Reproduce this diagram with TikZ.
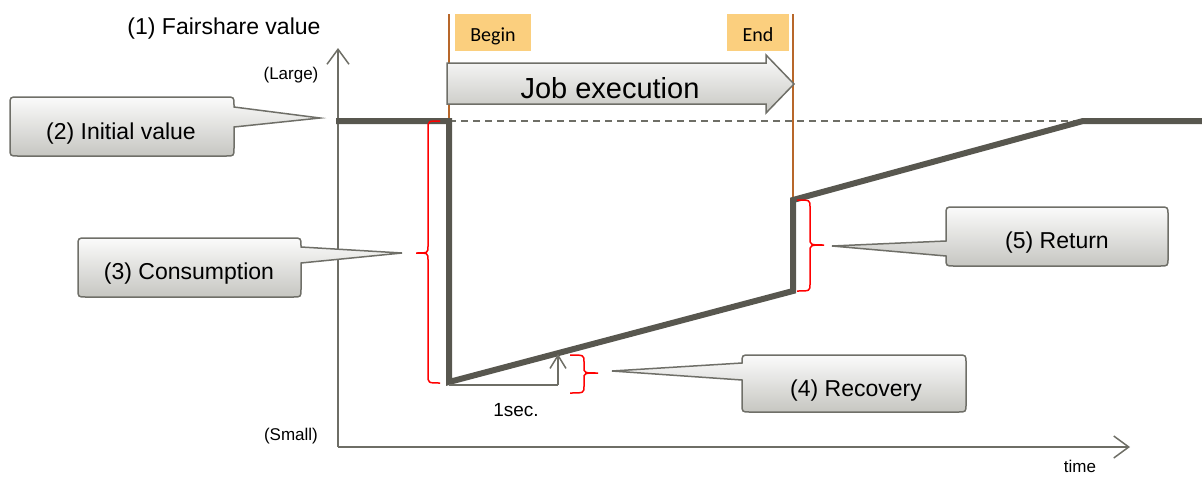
\documentclass[tikz,border=0pt]{standalone}
\usepackage{fontspec}
\setmainfont{Liberation Sans}
\newfontfamily\tagfont{Carlito}
\usetikzlibrary{arrows.meta}

\definecolor{lineclr}{HTML}{58574F}
\definecolor{axisclr}{HTML}{6E6E66}
\definecolor{brownclr}{HTML}{B8672A}
\definecolor{tagclr}{HTML}{FBCF7E}
\definecolor{shadetop}{HTML}{FBFBFB}
\definecolor{shadebot}{HTML}{C6C6C1}
\definecolor{edgeclr}{HTML}{6F6F68}

\tikzset{
  axisline/.style={draw=axisclr, line width=1.5pt,
    -{Straight Barb[length=15pt,width=22pt,line width=1.5pt]}},
  fairline/.style={draw=lineclr, line width=6pt, line join=miter},
  refline/.style={draw=axisclr, line width=1.3pt, dash pattern=on 7pt off 5pt},
  markline/.style={draw=brownclr, line width=1.5pt},
  tagtext/.style={font=\tagfont\fontsize{20}{24}\selectfont, anchor=base},
  calloutshape/.style={draw=edgeclr, line width=1.5pt, top color=shadetop, bottom color=shadebot},
  calltext/.style={font=\fontsize{23}{27}\selectfont, anchor=base},
  smalltext/.style={font=\fontsize{17}{20}\selectfont, anchor=base},
  bracket/.style={draw=red, line width=1.5pt},
  stepline/.style={draw=axisclr, line width=1.5pt},
}

% rounded callout, pointer on the right edge: x1 y1 x2 y2 ya yb tipx tipy
\newcommand\calloutright[8]{%
  \path[calloutshape] ({#1+8},#2) -- ({#3-8},#2) .. controls (#3,#2) .. (#3,{#2+8})
    -- (#3,#5) -- (#7,#8) -- (#3,#6)
    -- (#3,{#4-8}) .. controls (#3,#4) .. ({#3-8},#4)
    -- ({#1+8},#4) .. controls (#1,#4) .. (#1,{#4-8})
    -- (#1,{#2+8}) .. controls (#1,#2) .. ({#1+8},#2) -- cycle;}
% rounded callout, pointer on the left edge: x1 y1 x2 y2 ya yb tipx tipy
\newcommand\calloutleft[8]{%
  \path[calloutshape] ({#1+8},#2) -- ({#3-8},#2) .. controls (#3,#2) .. (#3,{#2+8})
    -- (#3,{#4-8}) .. controls (#3,#4) .. ({#3-8},#4)
    -- ({#1+8},#4) .. controls (#1,#4) .. (#1,{#4-8})
    -- (#1,#6) -- (#7,#8) -- (#1,#5)
    -- (#1,{#2+8}) .. controls (#1,#2) .. ({#1+8},#2) -- cycle;}

\begin{document}
\begin{tikzpicture}[x=1pt, y=-1pt]
\useasboundingbox (0,0) rectangle (1202,477);

% axes
\coordinate (origin) at (338,447);
\coordinate (ytop) at (338,48);
\coordinate (xend) at (1130,447);
\draw[axisline] (origin) -- (ytop);
\draw[axisline] (origin) -- (xend);

\node[calltext] (ylabel) at (224,34) {(1) Fairshare value};
\node[smalltext] (large) at (291,79) {(Large)};
\node[smalltext] (small) at (291,440) {(Small)};
\node[smalltext] (timelbl) at (1080,472) {time};

% begin / end markers
\coordinate (btop) at (449,14);
\coordinate (bbot) at (449,124);
\coordinate (etop) at (793,14);
\coordinate (ebot) at (793,200);
\draw[markline] (btop) -- (bbot);
\draw[markline] (etop) -- (ebot);
\fill[tagclr] (455,14) rectangle (531,51);
\fill[tagclr] (727,14) rectangle (789,51);
\node[tagtext] (begin) at (493,41) {Begin};
\node[tagtext] (endlbl) at (758,41) {End};

% job execution arrow
\path[calloutshape] (447,63) -- (766,63) -- (766,55) -- (794,84) -- (766,113)
  -- (766,104) -- (447,104) -- cycle;
\node[font=\fontsize{29}{34}\selectfont, anchor=base] (job) at (610,98) {Job execution};

% reference level
\coordinate (lvlA) at (449,121);
\coordinate (lvlB) at (1083,121);
\draw[refline] (lvlA) -- (lvlB);

% fairshare value over time
\coordinate (p0) at (336,121);
\coordinate (p1) at (449,121);
\coordinate (p2) at (449,382);
\coordinate (p3) at (793,291);
\coordinate (p4) at (793,200);
\coordinate (p5) at (1083,121);
\coordinate (p6) at (1203,121);
\draw[fairline] (p0) -- (p1) -- (p2) -- (p3) -- (p4) -- (p5) -- (p6);

% one-second step
\coordinate (s0) at (449,385);
\coordinate (s1) at (558,385);
\coordinate (s2) at (558,354);
\draw[stepline] (s0) -- (s1);
\draw[stepline, -{Straight Barb[length=13pt,width=16pt,line width=1.5pt]}] (s1) -- (s2);
\node[font=\fontsize{19}{22}\selectfont, anchor=base] (onesec) at (516,416) {1sec.};

% brackets
\draw[bracket] (440,121) .. controls (428,121) .. (428,129) -- (428,246)
  .. controls (428,253) .. (416,253) .. controls (428,253) .. (428,260)
  -- (428,375) .. controls (428,383) .. (440,383);
\draw[bracket] (570,355) .. controls (584,355) .. (584,362) -- (584,367)
  .. controls (584,373) .. (598,373) .. controls (584,373) .. (584,379)
  -- (584,386) .. controls (584,393) .. (570,393);
\draw[bracket] (797,200) .. controls (810,200) .. (810,207) -- (810,238)
  .. controls (810,245) .. (824,245) .. controls (810,245) .. (810,252)
  -- (810,284) .. controls (810,291) .. (797,291);

% callouts
\calloutright{10}{97}{234}{156}{107}{127}{320}{118}
\node[calltext] (initial) at (121,139) {(2) Initial value};
\calloutright{78}{238}{301}{297}{247}{263}{402}{253}
\node[calltext] (consume) at (189,279) {(3) Consumption};
\calloutleft{742}{355}{966}{412}{363}{380}{612}{371}
\node[calltext] (recover) at (856,396) {(4) Recovery};
\calloutleft{946}{207}{1168}{266}{241}{256}{832}{246}
\node[calltext] (return) at (1057,248) {(5) Return};
\end{tikzpicture}
\end{document}
